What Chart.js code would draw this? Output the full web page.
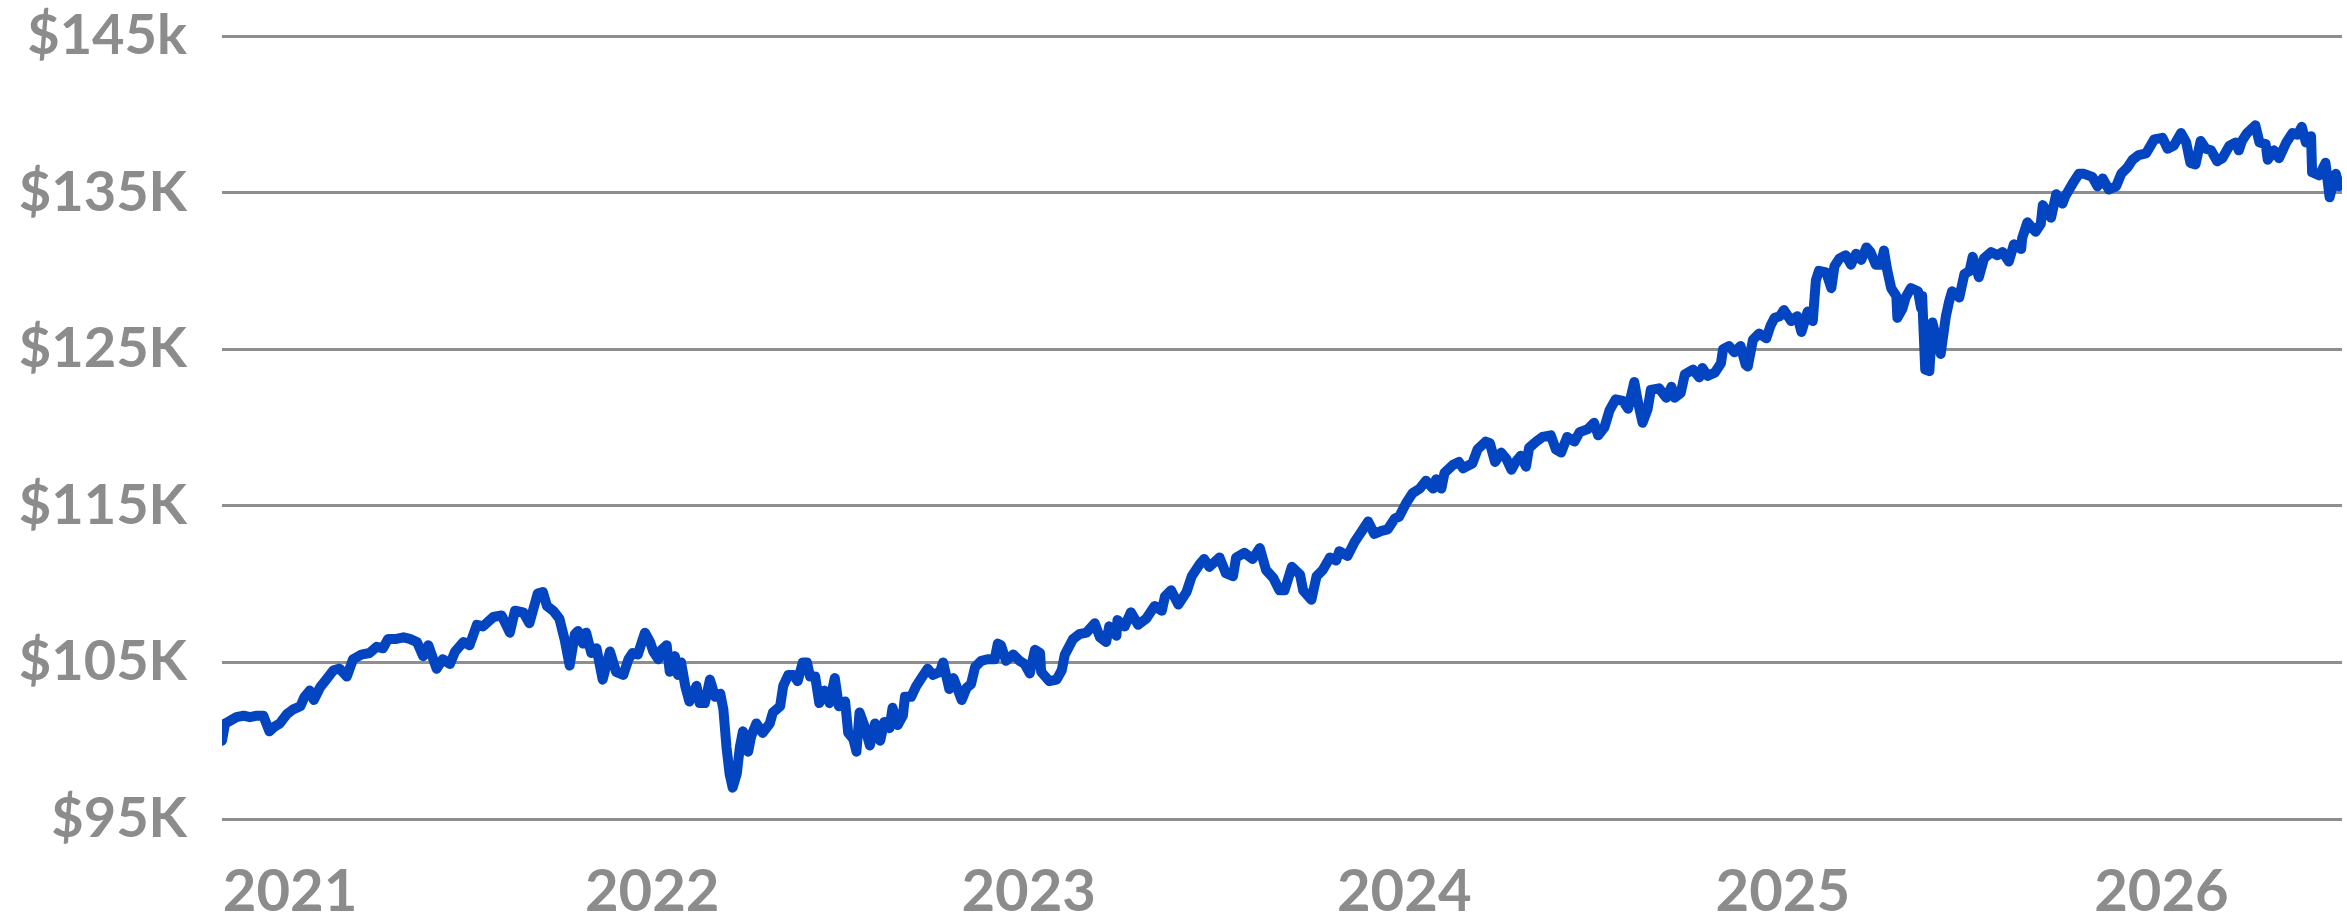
<!DOCTYPE html>
<html>
<head>
<meta charset="utf-8">
<title>Portfolio value</title>
<script src="https://cdn.jsdelivr.net/npm/chart.js@4.4.1/dist/chart.umd.min.js"></script>
<style>
    html, body { margin: 0; padding: 0; background: #ffffff; overflow: hidden; }
    #valueChart { display: block; }
</style>
</head>
<body>
<canvas id="valueChart" width="2347" height="912"></canvas>
<script>
// Days since the first observation
const dayOffsets = [
    0, 3, 6, 14, 21, 27, 34, 40, 46, 51,
    56, 63, 69, 76, 80, 85, 89, 95, 101, 108,
    114, 121, 127, 135, 143, 150, 156, 161, 169, 176,
    182, 189, 195, 200, 208, 214, 221, 226, 234, 240,
    247, 253, 263, 271, 279, 284, 292, 298, 306, 311,
    315, 321, 327, 332, 337, 342, 345, 350, 353, 358,
    363, 369, 376, 382, 389, 394, 398, 403, 410, 415,
    418, 423, 426, 431, 434, 439, 442, 445, 449, 453,
    460, 463, 468, 473, 478, 483, 486, 489, 492, 495,
    499, 502, 505, 510, 513, 518, 524, 531, 534, 541,
    544, 549, 554, 558, 563, 567, 570, 575, 579, 584,
    589, 594, 598, 604, 607, 612, 615, 618, 623, 628,
    633, 638, 642, 647, 650, 655, 660, 662, 668, 673,
    678, 684, 689, 696, 699, 705, 709, 717, 722, 726,
    730, 736, 742, 749, 752, 755, 760, 767, 773, 778,
    783, 788, 793, 794, 802, 809, 814, 817, 825, 831,
    838, 846, 851, 857, 860, 867, 868, 875, 881, 888,
    896, 904, 911, 914, 920, 927, 935, 940, 948, 952,
    957, 967, 973, 980, 983, 991, 999, 1006, 1012, 1019,
    1025, 1030, 1037, 1045, 1048, 1056, 1061, 1067, 1074, 1080,
    1083, 1091, 1098, 1104, 1111, 1117, 1124, 1130, 1137, 1141,
    1148, 1154, 1161, 1167, 1174, 1177, 1182, 1185, 1193, 1199,
    1203, 1209, 1212, 1217, 1225, 1229, 1234, 1240, 1245, 1250,
    1254, 1259, 1264, 1267, 1274, 1280, 1288, 1293, 1298, 1304,
    1311, 1316, 1324, 1330, 1334, 1340, 1345, 1351, 1358, 1363,
    1369, 1372, 1377, 1382, 1385, 1393, 1400, 1405, 1408, 1414,
    1418, 1426, 1432, 1435, 1440, 1447, 1453, 1455, 1461, 1466,
    1472, 1477, 1479, 1484, 1490, 1497, 1501, 1505, 1510, 1514,
    1521, 1527, 1531, 1537, 1542,
    1545, 1548, 1555, 1560, 1563, 1568, 1574,
    1579, 1584, 1589, 1594, 1598, 1603, 1608, 1611, 1614, 1618,
    1623, 1624, 1629, 1632, 1637, 1644, 1647, 1648, 1651, 1655,
    1658, 1661, 1666, 1671, 1674, 1677, 1684, 1689, 1694, 1697,
    1703, 1708, 1715, 1721, 1726, 1732, 1737, 1744, 1745, 1750,
    1758, 1763, 1765, 1773, 1778, 1784, 1787, 1795, 1800, 1805,
    1813, 1818, 1823, 1829, 1836, 1841, 1847, 1852, 1858, 1865,
    1873, 1881, 1886, 1892, 1899, 1904, 1908, 1913, 1918, 1923,
    1928, 1934, 1939, 1946, 1952, 1955, 1958, 1963, 1971, 1975,
    1981, 1983, 1989, 1994, 2001, 2007, 2012, 2016, 2020, 2025,
    2026, 2033, 2039, 2043, 2046, 2049, 2052, 2055
];

// Portfolio value, thousands of dollars
const portfolioValues = [
    100.0, 101.1, 101.2, 101.5, 101.6, 101.5, 101.6, 101.6, 100.6, 100.9,
    101.1, 101.7, 102.0, 102.2, 102.8, 103.2, 102.6, 103.4, 103.9, 104.5,
    104.6, 104.1, 105.2, 105.5, 105.6, 106.0, 105.9, 106.5, 106.5, 106.6,
    106.5, 106.3, 105.4, 106.1, 104.6, 105.2, 104.9, 105.7, 106.3, 106.1,
    107.4, 107.3, 107.9, 108.0, 106.9, 108.3, 108.2, 107.5, 109.4, 109.5,
    108.6, 108.3, 107.8, 106.5, 104.8, 106.8, 107.0, 106.2, 106.9, 105.6,
    105.9, 103.9, 105.7, 104.4, 104.2, 105.2, 105.6, 105.5, 106.9, 106.3,
    105.7, 105.2, 105.8, 106.1, 104.4, 105.4, 104.2, 105.0, 103.5, 102.5,
    103.5, 102.4, 102.4, 103.9, 102.8, 103.0, 102.0, 99.6, 97.9, 97.0,
    97.9, 99.6, 100.6, 99.3, 100.3, 101.1, 100.5, 101.1, 101.8, 102.2,
    103.5, 104.2, 104.2, 103.8, 105.0, 105.0, 104.1, 104.1, 102.4, 103.2,
    102.4, 104.0, 102.2, 102.5, 100.5, 100.1, 99.3, 101.8, 100.9, 99.7,
    101.1, 100.0, 101.2, 100.8, 102.1, 101.0, 101.6, 102.8, 102.8, 103.5,
    104.0, 104.6, 104.2, 104.4, 105.0, 103.3, 104.0, 102.6, 103.4, 103.6,
    104.7, 105.1, 105.2, 105.2, 106.2, 106.1, 105.1, 105.5, 105.1, 104.9,
    104.3, 105.8, 105.6, 104.4, 103.8, 103.9, 104.5, 105.5, 106.5, 106.8,
    106.9, 107.5, 106.6, 106.3, 107.3, 106.7, 107.7, 107.3, 108.2, 107.4,
    107.8, 108.6, 108.3, 109.2, 109.6, 108.7, 109.5, 110.5, 111.3, 111.6,
    111.1, 111.7, 110.7, 110.5, 111.7, 112.0, 111.6, 112.3, 110.9, 110.4,
    109.6, 109.6, 111.1, 110.6, 109.6, 109.0, 110.5, 110.9, 111.7, 111.5,
    112.1, 111.8, 112.7, 113.3, 114.0, 113.2, 113.4, 113.5, 114.2, 114.3,
    115.2, 115.8, 116.1, 116.6, 116.1, 116.7, 116.1, 117.1, 117.6, 117.8,
    117.4, 117.6, 117.7, 118.6, 119.1, 119.0, 117.8, 118.4, 118.0, 117.3,
    117.8, 118.2, 117.5, 118.7, 119.1, 119.4, 119.5, 118.6, 118.4, 119.4,
    119.1, 119.7, 119.9, 120.3, 119.5, 120.0, 121.1, 121.8, 121.7, 121.2,
    122.9, 121.8, 120.3, 121.2, 122.4, 122.5, 121.9, 122.6, 121.9, 122.2,
    123.4, 123.7, 123.2, 123.8, 123.3, 123.5, 124.1, 125.0, 125.2, 124.8,
    125.2, 124.0, 123.9, 125.6, 126.0, 125.7, 126.5, 127.0, 127.1, 127.5,
    126.8, 127.1, 126.1, 127.4, 126.8,
    129.4, 130.0, 129.9, 128.9, 130.3, 130.8, 131.0,
    130.4, 131.1, 130.7, 131.5, 131.2, 130.4, 130.4, 131.3, 130.1, 128.9,
    128.4, 127.0, 127.6, 128.3, 128.9, 128.7, 127.6, 128.4, 123.7, 123.6,
    126.7, 125.9, 124.7, 127.1, 128.0, 128.7, 128.3, 129.8, 130.0, 130.9,
    129.6, 130.8, 131.2, 131.0, 131.2, 130.6, 131.7, 131.4, 132.1, 133.1,
    132.5, 133.0, 134.2, 133.4, 134.9, 134.3, 134.8, 135.7, 136.2, 136.2,
    136.0, 135.4, 135.9, 135.2, 135.4, 136.2, 136.6, 137.1, 137.4, 137.5,
    138.4, 138.5, 137.8, 138.0, 138.8, 138.2, 136.9, 136.8, 138.3, 137.8,
    137.7, 137.0, 137.2, 138.0, 138.2, 137.7, 138.3, 138.8, 139.3, 138.2,
    138.1, 137.1, 137.7, 137.2, 138.2, 138.8, 138.7, 139.2, 138.2, 138.6,
    136.3, 136.1, 136.9, 134.7, 135.5, 136.2, 135.4, 135.7
];

// Axis ticks
const yTickValues = [95, 105, 115, 125, 135, 145];
const yTickLabels = ['$95K', '$105K', '$115K', '$125K', '$135K', '$145k'];
const yearTickDays = [66, 417, 782, 1146, 1513, 1880];
const yearLabels = ['2021', '2022', '2023', '2024', '2025', '2026'];

const labelGrey = '#8c8c8c';

function drawChart() {
    const points = dayOffsets.map((d, i) => ({ x: d, y: portfolioValues[i] }));

    new Chart(document.getElementById('valueChart'), {
        type: 'line',
        data: {
            datasets: [{
                data: points,
                borderColor: '#0345c0',
                borderWidth: 10,
                pointRadius: 0,
                tension: 0,
                fill: false,
                borderJoinStyle: 'round',
                borderCapStyle: 'round'
            }]
        },
        options: {
            responsive: false,
            animation: false,
            devicePixelRatio: 1,
            parsing: false,
            layout: { padding: { top: 36, right: 5, bottom: 0, left: 0 } },
            plugins: {
                legend: { display: false },
                tooltip: { enabled: false }
            },
            scales: {
                x: {
                    type: 'linear',
                    min: 0,
                    max: dayOffsets[dayOffsets.length - 1],
                    grid: { display: false, drawTicks: false },
                    border: { display: false },
                    afterBuildTicks: scale => {
                        scale.ticks = yearTickDays.map(v => ({ value: v }));
                    },
                    afterFit: scale => { scale.height = 93; },
                    ticks: {
                        autoSkip: false,
                        maxRotation: 0,
                        padding: 38,
                        color: labelGrey,
                        font: { family: 'Lato', size: 58, weight: 'bold' },
                        callback: (value, index) => yearLabels[index]
                    }
                },
                y: {
                    min: 95,
                    max: 145,
                    grid: { color: '#8e8e8e', lineWidth: 3, drawTicks: false },
                    border: { display: false },
                    afterBuildTicks: scale => {
                        scale.ticks = yTickValues.map(v => ({ value: v }));
                    },
                    afterFit: scale => { scale.width = 222; },
                    ticks: {
                        padding: 35,
                        color: labelGrey,
                        // tiny line height so the top label does not push the plot down
                        font: { family: 'Lato', size: 56, weight: 'bold', lineHeight: 0.02 },
                        callback: (value, index) => yTickLabels[index]
                    }
                }
            }
        }
    });
}

// Make sure the font is ready before the canvas text is drawn
Promise.all([
    document.fonts.load('bold 58px Lato'),
    document.fonts.load('bold 56px Lato')
]).then(drawChart, drawChart);
</script>
</body>
</html>
